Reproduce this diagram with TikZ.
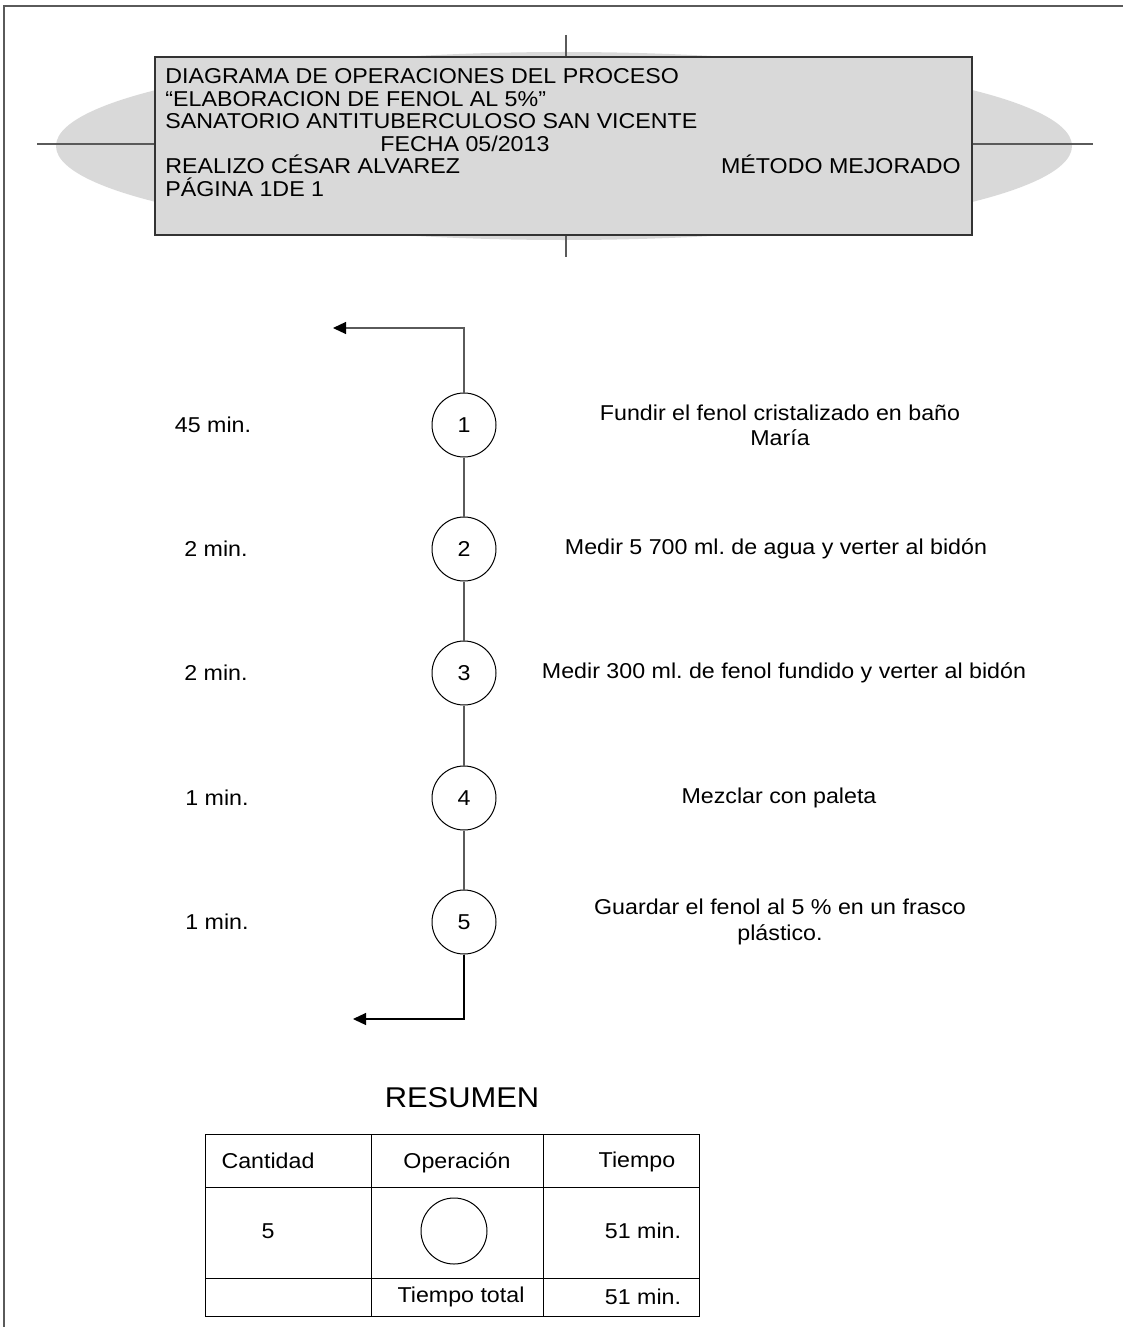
\documentclass[tikz,border=0pt]{standalone}
\usepackage{fontspec}
\setmainfont{Liberation Sans}[FakeStretch=1.08]
\usetikzlibrary{arrows.meta}
\definecolor{hdrgray}{HTML}{D9D9D9}
\definecolor{linegray}{HTML}{5A5A5A}
\frenchspacing
\begin{document}
\frenchspacing
\begin{tikzpicture}[x=0.5pt,y=-0.5pt,
  txt/.style={font=\fontsize{10.75}{12}\selectfont, inner sep=0pt},
  ctxt/.style={txt, align=center, font=\fontsize{10.75}{12}\selectfont},
  opc/.style={circle, draw=black, line width=0.5pt, minimum size=32pt, inner sep=0pt, font=\fontsize{10.75}{12}\selectfont},
  conn/.style={draw=linegray, line width=0.6pt},
  arr/.style={conn, -{Triangle[length=6.5pt,width=6pt,color=black]}},
  tbl/.style={draw=black, line width=0.5pt},
  hdrbox/.style={draw=black!80, line width=0.6pt, fill=hdrgray},
]
\useasboundingbox (0,0) rectangle (1123,1327);
% page border
\draw[linegray, line width=1.1pt] (4,1327) -- (4,6) -- (1123,6);
% header decoration
\fill[hdrgray] (564,146) ellipse [x radius=254pt, y radius=47pt];
\draw[linegray, line width=0.7pt] (37,144) -- (1093,144);
\draw[linegray, line width=0.7pt] (566,35) -- (566,257);
\node[hdrbox, minimum width=408.5pt, minimum height=89pt, inner sep=0pt] (hdr) at (563.5,146) {};
\node[txt, anchor=base west] (h1) at (165,84) {DIAGRAMA DE OPERACIONES DEL PROCESO};
\node[txt, anchor=base west] (h2) at (165,106) {“ELABORACION DE FENOL AL 5\%”};
\node[txt, anchor=base west] (h3) at (165,128) {SANATORIO ANTITUBERCULOSO SAN VICENTE};
\node[txt, anchor=base west] (h4) at (380,151) {FECHA 05/2013};
\node[txt, anchor=base west] (h5) at (165,173) {REALIZO CÉSAR ALVAREZ};
\node[txt, anchor=base east] (h6) at (961,173) {MÉTODO MEJORADO};
\node[txt, anchor=base west] (h7) at (165,196) {PÁGINA 1DE 1};
% operations
\node[opc] (c1) at (464,425) {1};
\node[opc] (c2) at (464,549) {2};
\node[opc] (c3) at (464,673) {3};
\node[opc] (c4) at (464,798) {4};
\node[opc] (c5) at (464,922) {5};
\coordinate (tl) at (333,328);
\coordinate (bl) at (353,1019);
\draw[arr] (c1.north) |- (tl);
\draw[conn] (c1) -- (c2);
\draw[conn] (c2) -- (c3);
\draw[conn] (c3) -- (c4);
\draw[conn] (c4) -- (c5);
\draw[arr, draw=black] (c5.south) |- (bl);
% times
\node[txt] (t1) at (213,425) {45 min.};
\node[txt] (t2) at (216,549) {2 min.};
\node[txt] (t3) at (216,673) {2 min.};
\node[txt] (t4) at (217,798) {1 min.};
\node[txt] (t5) at (217,922) {1 min.};
% descriptions
\node[ctxt] (d1) at (780,425) {Fundir el fenol cristalizado en baño\\[0.6pt]María};
\node[ctxt] (d2) at (776,549) {Medir 5 700 ml. de agua y verter al bidón};
\node[ctxt] (d3) at (784,673) {Medir 300 ml. de fenol fundido y verter al bidón};
\node[ctxt] (d4) at (779,798) {Mezclar con paleta};
\node[ctxt] (d5) at (780,922) {Guardar el fenol al 5 \% en un frasco\\[0.6pt]plástico.};
% summary
\node[txt, font=\fontsize{14.3}{16}\selectfont] (res) at (462,1098) {RESUMEN};
\draw[tbl] (205,1134) rectangle (699,1316);
\draw[tbl] (371,1134) -- (371,1316);
\draw[tbl] (543,1134) -- (543,1316);
\draw[tbl] (205,1187) -- (699,1187);
\draw[tbl] (205,1278) -- (699,1278);
\node[txt] (k1) at (268,1161) {Cantidad};
\node[txt] (k2) at (457,1163) {Operación};
\node[txt] (k3) at (637,1162) {Tiempo};
\node[txt] (k4) at (268,1231) {5};
\node[opc, minimum size=33pt] (k5) at (454,1231) {};
\node[txt] (k6) at (643,1231) {51 min.};
\node[txt] (k7) at (461,1297) {Tiempo total};
\node[txt] (k8) at (643,1297) {51 min.};
\end{tikzpicture}
\end{document}
